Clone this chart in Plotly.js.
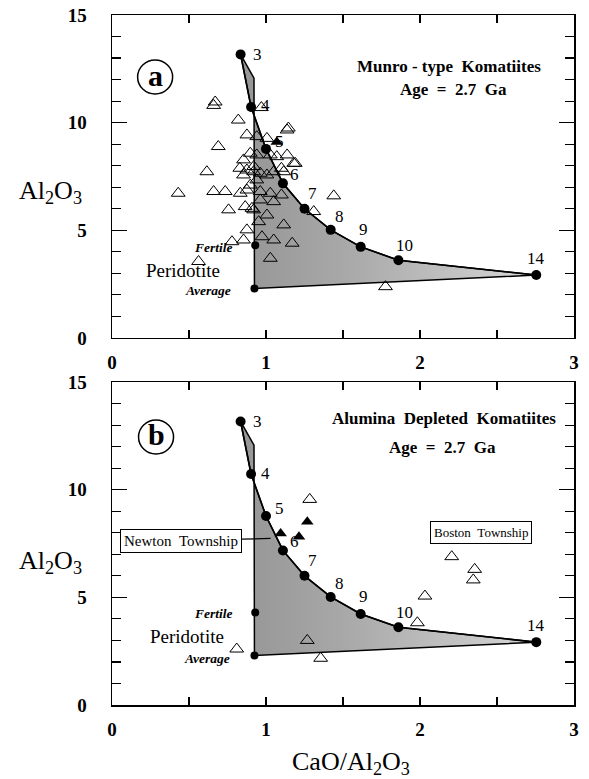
<!DOCTYPE html>
<html>
<head>
<meta charset="utf-8">
<script src="https://cdn.plot.ly/plotly-3.0.1.min.js"></script>
<style>html,body{margin:0;padding:0;background:#fff;}</style>
</head>
<body>
<div id="chart" style="width:589px;height:779px;"></div>
<script>
// Melting model: CaO/Al2O3 vs Al2O3 of residue-equilibrated liquids, labelled by pressure (GPa)
const modelX = [0.835, 0.903, 1.0, 1.11, 1.25, 1.42, 1.615, 1.86, 2.755];
const modelY = [13.17, 10.73, 8.78, 7.18, 6.0, 5.02, 4.23, 3.61, 2.92];
const modelLabels = ['3', '4', '5', '6', '7', '8', '9', '10', '14'];

// Upper corner of the field boundary and the fertile / average peridotite compositions
const cornerX = 0.922, cornerY = 12.07;
const fertileX = 0.93, fertileY = 4.3;
const averageX = 0.925, averageY = 2.3;

// (a) Munro-type komatiites
const munroX = [0.67, 0.66, 0.82, 0.69, 0.876, 0.616, 0.94, 1.006, 1.137, 1.145, 1.137, 1.19, 0.898, 0.94,
  0.854, 1.028, 1.07, 1.10, 0.876, 0.92, 0.963, 1.05, 0.83, 0.97,
  0.43, 0.66, 0.735, 0.833, 0.757, 0.876, 0.898, 0.94, 1.006, 0.854, 0.92, 0.963, 1.028, 1.115, 1.18,
  0.865, 0.909, 0.963, 1.006, 1.05, 1.10, 0.92, 0.952, 0.876, 0.854, 0.779, 0.974, 1.05, 1.115, 1.17,
  1.028, 0.562, 1.31, 1.44, 1.776];
const munroY = [10.96, 10.8, 10.12, 8.89, 9.43, 7.72, 9.35, 9.27, 9.66, 9.75, 8.5, 8.11, 8.58, 8.5,
  8.27, 8.5, 8.42, 7.88, 7.8, 7.96, 7.65, 7.72, 7.88, 10.7,
  6.72, 6.8, 6.8, 6.72, 5.95, 6.87, 7.1, 7.34, 7.57, 7.57, 7.72, 6.8, 6.72, 7.72, 8.11,
  6.1, 6.02, 6.41, 5.71, 6.33, 6.64, 5.95, 5.4, 5.02, 4.55, 4.47, 4.7, 4.55, 5.25, 4.4,
  3.7, 3.55, 5.87, 6.6, 2.38];
const munroSolidX = [1.07];
const munroSolidY = [9.1];

// (b) Alumina depleted komatiites
const depletedX = [1.284, 1.268, 0.81, 1.355, 2.206, 2.355, 2.346, 2.032, 1.983];
const depletedY = [9.55, 3.0, 2.6, 2.17, 6.89, 6.30, 5.81, 5.06, 3.82];
const newtonX = [1.268, 1.214, 1.095];
const newtonY = [8.51, 7.82, 7.97];

const serif = 'Liberation Serif, Times New Roman, serif';
const sp = '\u00a0\u00a0';

// pixel offsets of the pressure labels from their points
const labelDX = [17, 14, 13, 12, 8, 9, 3, 6, 0];
const labelDY = [0, 1, 7, 9, 15, 13, 17, 15, 17];

function panelTraces(xa, ya, openX, openY, solidX, solidY) {
  const n = modelX.length;
  const polyX = [modelX[0], cornerX, averageX, modelX[n - 1]];
  const polyY = [modelY[0], cornerY, averageY, modelY[n - 1]];
  for (let i = n - 2; i >= 0; i--) { polyX.push(modelX[i]); polyY.push(modelY[i]); }
  return [
    { x: polyX, y: polyY, xaxis: xa, yaxis: ya, type: 'scatter', mode: 'lines', fill: 'toself',
      fillcolor: 'rgb(180,180,180)',
      fillgradient: { type: 'horizontal',
        colorscale: [[0, 'rgb(150,150,150)'], [0.35, 'rgb(168,168,168)'], [0.7, 'rgb(192,192,192)'], [1, 'rgb(215,215,215)']] },
      line: { color: '#000', width: 1.5 }, hoverinfo: 'skip' },
    { x: openX, y: openY, xaxis: xa, yaxis: ya, type: 'scatter', mode: 'markers',
      marker: { symbol: 'triangle-up-open', size: 12, color: '#000', line: { width: 1, color: '#000' } } },
    { x: solidX, y: solidY, xaxis: xa, yaxis: ya, type: 'scatter', mode: 'markers',
      marker: { symbol: 'triangle-up', size: 11, color: '#000' } },
    { x: modelX, y: modelY, xaxis: xa, yaxis: ya, type: 'scatter', mode: 'lines+markers',
      line: { color: '#000', width: 1.6 }, marker: { symbol: 'circle', size: 10, color: '#000' } },
    { x: [fertileX, averageX], y: [fertileY, averageY], xaxis: xa, yaxis: ya, type: 'scatter', mode: 'markers',
      marker: { symbol: 'circle', size: 8, color: '#000' } }
  ];
}

function panelNotes(xa, ya, title, letter, letterX, letterY, titleX, titleY, ageX, ageY, fert) {
  const notes = [];
  for (let i = 0; i < modelX.length; i++) {
    notes.push({ x: modelX[i], y: modelY[i], xref: xa, yref: ya, text: modelLabels[i], showarrow: false,
      xshift: labelDX[i], yshift: labelDY[i], font: { family: serif, size: 17, color: '#000' } });
  }
  notes.push({ x: titleX, y: titleY, xref: xa, yref: ya, text: title, showarrow: false,
    font: { family: serif, size: 17, color: '#000', weight: 'bold' } });
  notes.push({ x: ageX, y: ageY, xref: xa, yref: ya, text: 'Age' + sp + '=' + sp + '2.7' + sp + 'Ga', showarrow: false,
    font: { family: serif, size: 17, color: '#000', weight: 'bold' } });
  notes.push({ x: letterX, y: letterY, xref: xa, yref: ya, text: letter, showarrow: false, yshift: 2,
    font: { family: serif, size: 30, color: '#000', weight: 'bold' } });
  notes.push({ x: fert[0], y: fert[1], xref: xa, yref: ya, text: 'Fertile', showarrow: false,
    font: { family: serif, size: 13.5, color: '#000', style: 'italic', weight: 'bold' } });
  notes.push({ x: fert[2], y: fert[3], xref: xa, yref: ya, text: 'Peridotite', showarrow: false,
    font: { family: serif, size: 19, color: '#000' } });
  notes.push({ x: fert[4], y: fert[5], xref: xa, yref: ya, text: 'Average', showarrow: false,
    font: { family: serif, size: 13.5, color: '#000', style: 'italic', weight: 'bold' } });
  return notes;
}

const traces = [].concat(
  panelTraces('x', 'y', munroX, munroY, munroSolidX, munroSolidY),
  panelTraces('x2', 'y2', depletedX, depletedY, newtonX, newtonY)
);

const axisTitle = (x, y, text) => ({ x: x, y: y, xref: 'paper', yref: 'paper', xanchor: 'center', yanchor: 'middle',
  text: text, showarrow: false, font: { family: serif, size: 26, color: '#000' } });

const annotations = [].concat(
  panelNotes('x', 'y', 'Munro\u00a0-\u00a0type' + sp + 'Komatiites', 'a', 0.28, 12.12, 2.186, 12.59, 2.219, 11.52,
    [0.657, 4.18, 0.462, 3.11, 0.625, 2.18]),
  panelNotes('x2', 'y2', 'Alumina' + sp + 'Depleted' + sp + 'Komatiites', 'b', 0.286, 12.45, 2.156, 13.33, 2.143, 11.94,
    [0.662, 4.27, 0.487, 3.2, 0.617, 2.18]),
  [
    { x: 1.03, y: 7.74, xref: 'x2', yref: 'y2', ax: 0.448, ay: 7.62, axref: 'x2', ayref: 'y2',
      text: 'Newton' + sp + 'Township', showarrow: true, arrowhead: 0, arrowwidth: 1.2, arrowcolor: '#000',
      bordercolor: '#000', borderwidth: 1, borderpad: 3, bgcolor: '#fff',
      font: { family: serif, size: 15, color: '#000' } },
    { x: 2.393, y: 7.99, xref: 'x2', yref: 'y2', text: 'Boston' + sp + 'Township', showarrow: false,
      bordercolor: '#000', borderwidth: 1, borderpad: 3, bgcolor: '#fff',
      font: { family: serif, size: 13, color: '#000' } },
    axisTitle(-0.134, 0.743, 'Al<sub>2</sub>O<sub>3</sub>'),
    axisTitle(-0.134, 0.207, 'Al<sub>2</sub>O<sub>3</sub>'),
    axisTitle(0.518, -0.084, 'CaO/Al<sub>2</sub>O<sub>3</sub>')
  ]
);

const circle = (xa, ya, cx, cy) => ({
  type: 'circle', xref: xa, yref: ya, xsizemode: 'pixel', ysizemode: 'pixel',
  xanchor: cx, yanchor: cy, x0: -17.5, x1: 17.5, y0: -17, y1: 17,
  line: { color: '#000', width: 1.5 }, fillcolor: 'rgba(0,0,0,0)'
});

function xAxis(anchor) {
  return {
    anchor: anchor, range: [0, 3], tick0: 0, dtick: 1, ticks: 'inside', ticklen: 8, tickwidth: 1.2, tickcolor: '#000',
    showline: true, linewidth: 1.5, linecolor: '#000', mirror: 'allticks', showgrid: false, zeroline: false,
    tickfont: { family: serif, size: 19, color: '#000', weight: 'bold' }, ticklabelstandoff: 7,
    minor: { dtick: 0.5, ticks: 'inside', ticklen: 8, tickwidth: 1.2, tickcolor: '#000', showgrid: false },
    fixedrange: true
  };
}
function yAxis(anchor, domain) {
  return {
    anchor: anchor, domain: domain, range: [0, 15], tick0: 0, dtick: 5, ticks: 'inside', ticklen: 15, tickwidth: 1.2,
    tickcolor: '#000', showline: true, linewidth: 1.5, linecolor: '#000', mirror: 'allticks', showgrid: false,
    zeroline: false, tickfont: { family: serif, size: 19, color: '#000', weight: 'bold' }, ticklabelstandoff: 20,
    minor: { dtick: 1, ticks: 'inside', ticklen: 9, tickwidth: 1.2, tickcolor: '#000', showgrid: false },
    fixedrange: true
  };
}

const layout = {
  width: 589, height: 779, showlegend: false,
  margin: { l: 112, r: 15, t: 15, b: 74 },
  paper_bgcolor: '#fff', plot_bgcolor: '#fff',
  xaxis: xAxis('y'), yaxis: yAxis('x', [0.532, 1]),
  xaxis2: xAxis('y2'), yaxis2: yAxis('x2', [0, 0.468]),
  annotations: annotations,
  shapes: [circle('x', 'y', 0.28, 12.12), circle('x2', 'y2', 0.286, 12.45)]
};

Plotly.newPlot('chart', traces, layout, { displayModeBar: false, staticPlot: true });
</script>
</body>
</html>
